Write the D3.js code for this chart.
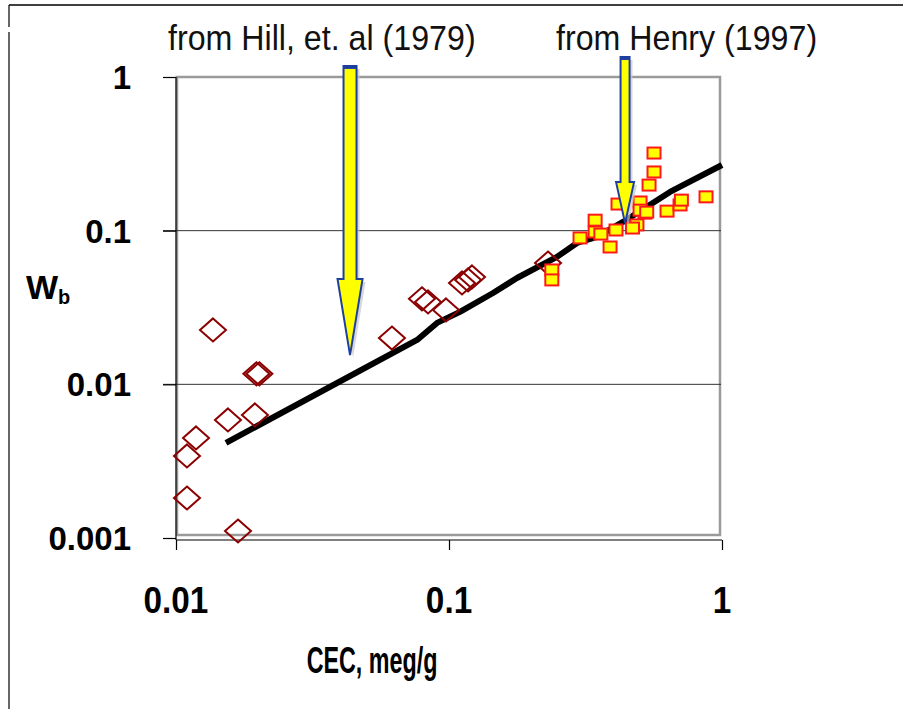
<!DOCTYPE html>
<html>
<head>
<meta charset="utf-8">
<script src="https://cdn.jsdelivr.net/npm/d3@7"></script>
<style>
  html, body { margin: 0; padding: 0; background: #fff; }
  svg { display: block; }
</style>
</head>
<body>
<svg id="chart" width="903" height="709"></svg>
<script>
// ---- data ----
const hillCEC = [0.01366, 0.01097, 0.01184, 0.01097, 0.0155, 0.01946, 0.01687, 0.0197, 0.0202,
                 0.0618, 0.0796, 0.0838, 0.0975, 0.1116, 0.1175, 0.1214, 0.2305];
const hillWb  = [0.0226, 0.00342, 0.00448, 0.00182, 0.00587, 0.00632, 0.00111, 0.0117, 0.0117,
                 0.0200, 0.0360, 0.0344, 0.0305, 0.0457, 0.0478, 0.0500, 0.0616];

const henryCEC = [0.5636, 0.5636, 0.5405, 0.501, 0.416, 0.522, 0.629, 0.702, 0.71, 0.874,
                  0.488, 0.47, 0.501, 0.53, 0.409, 0.343, 0.343, 0.302, 0.389, 0.238, 0.238, 0.36];
const henryWb  = [0.320, 0.241, 0.198, 0.1537, 0.149, 0.130, 0.134, 0.147, 0.158, 0.166,
                  0.109, 0.104, 0.136, 0.132, 0.101, 0.117, 0.098, 0.0897, 0.0783, 0.0555, 0.0478, 0.095];

const fitCEC = [0.01524, 0.0764, 0.0904, 0.1097, 0.145, 0.1774, 0.2486, 0.2943, 0.3484, 0.4337, 0.645, 1.0];
const fitWb  = [0.00416, 0.01945, 0.0251, 0.0296, 0.0393, 0.0492, 0.0675, 0.0832, 0.091, 0.114, 0.1786, 0.2676];

const xTicks = [0.01, 0.1, 1];
const yTicks = [0.001, 0.01, 0.1, 1];
const xTickLabels = ["0.01", "0.1", "1"];
const yTickLabels = ["0.001", "0.01", "0.1", "1"];

// annotation arrows: tip point and top of shaft (data units), and label
const arrowLabels = ["from Hill, et. al (1979)", "from Henry (1997)"];
const arrowTipCEC = [0.0434, 0.4415];
const arrowTipWb  = [0.0155, 0.112];
const arrowTopWb  = [1.18, 1.35];

// ---- chart ----
const svg = d3.select("#chart");
const x = d3.scaleLog().domain([0.01, 1]).range([176, 722]);
const y = d3.scaleLog().domain([0.001, 1]).range([538, 77]);
const FONT = "Liberation Sans, Arial, sans-serif";

// outer frame
svg.append("line").attr("x1", 9).attr("x2", 903).attr("y1", 5).attr("y2", 5)
   .attr("stroke", "#000").attr("stroke-width", 1.5);
svg.append("line").attr("x1", 9).attr("x2", 9).attr("y1", 5).attr("y2", 27)
   .attr("stroke", "#000").attr("stroke-width", 1.2);
svg.append("line").attr("x1", 9).attr("x2", 9).attr("y1", 32).attr("y2", 709)
   .attr("stroke", "#000").attr("stroke-width", 1.2);

// plot area gray frame
svg.append("rect").attr("x", 177).attr("y", 77).attr("width", 543).attr("height", 458)
   .attr("fill", "none").attr("stroke", "#9a9a9a").attr("stroke-width", 2.5);

// gridlines
svg.append("g").selectAll("line").data([0.01, 0.1]).join("line")
   .attr("x1", 163).attr("x2", 721)
   .attr("y1", d => y(d)).attr("y2", d => y(d))
   .attr("stroke", "#333").attr("stroke-width", 1);

// axes
const yAxis = d3.axisLeft(y).tickValues(yTicks).tickSize(13).tickFormat("");
const gy = svg.append("g").attr("transform", "translate(176,0)").call(yAxis);
const xAxis = d3.axisBottom(x).tickValues(xTicks).tickSize(10).tickFormat("");
const gx = svg.append("g").attr("transform", "translate(0,540)").call(xAxis);
[gx, gy].forEach(g => {
  g.select(".domain").attr("stroke", "#000").attr("stroke-width", 1.2);
  g.selectAll(".tick line").attr("stroke", "#000").attr("stroke-width", 1.2);
});
gy.select(".domain").attr("d", "M0,77V540");
gx.select(".domain").attr("d", "M176,0H722");

// tick labels
svg.append("g").selectAll("text").data(yTicks).join("text")
   .attr("x", 131).attr("y", d => y(d)).attr("dy", "0.36em")
   .attr("text-anchor", "end")
   .attr("font-family", FONT)
   .attr("font-weight", "bold").attr("font-size", 33)
   .text((d, i) => yTickLabels[i]);

svg.append("g").selectAll("text").data(xTicks).join("text")
   .attr("transform", d => `translate(${x(d)},613) scale(0.9,1)`)
   .attr("text-anchor", "middle")
   .attr("font-family", FONT)
   .attr("font-weight", "bold").attr("font-size", 37)
   .text((d, i) => xTickLabels[i]);

// axis titles
svg.append("text").attr("transform", "translate(372,673) scale(0.63,1)")
   .attr("text-anchor", "middle")
   .attr("font-family", FONT)
   .attr("font-weight", "bold").attr("font-size", 37)
   .text("CEC, meg/g");

const wt = svg.append("text").attr("x", 26).attr("y", 299)
   .attr("font-family", FONT)
   .attr("font-weight", "bold").attr("font-size", 34);
wt.append("tspan").text("W");
wt.append("tspan").attr("font-size", 20).attr("dy", 5).text("b");

// fit line
const line = d3.line().x(d => x(d[0])).y(d => y(d[1]));
svg.append("path").datum(fitCEC.map((c, i) => [c, fitWb[i]]))
   .attr("d", line).attr("fill", "none")
   .attr("stroke", "#000").attr("stroke-width", 6).attr("stroke-linejoin", "round");

// Hill diamonds
svg.append("g").selectAll("path").data(hillCEC.map((c, i) => [c, hillWb[i]])).join("path")
   .attr("transform", d => `translate(${x(d[0])},${y(d[1])})`)
   .attr("d", "M0,-11.5L13,0L0,11.5L-13,0Z")
   .attr("fill", "none").attr("stroke", "#8b0000").attr("stroke-width", 2);

// Henry squares
svg.append("g").selectAll("rect").data(henryCEC.map((c, i) => [c, henryWb[i]])).join("rect")
   .attr("x", d => x(d[0]) - 6.5).attr("y", d => y(d[1]) - 5.5)
   .attr("width", 13).attr("height", 11)
   .attr("fill", "#ffff00").attr("stroke", "#ff1a1a").attr("stroke-width", 2);

// arrows
const labelX = [168, 556];
arrowLabels.forEach((lab, i) => {
  const tx = x(arrowTipCEC[i]), ty = y(arrowTipWb[i]), top = y(arrowTopWb[i]);
  const sw = i === 0 ? 6.5 : 4.5;   // shaft half width
  const hw = i === 0 ? 12.5 : 9;    // head half width
  const hl = i === 0 ? 76 : 41;     // head length
  const p = `M${tx - sw},${top}H${tx + sw}V${ty - hl}H${tx + hw}L${tx},${ty}L${tx - hw},${ty - hl}H${tx - sw}Z`;
  svg.append("path").attr("d", p).attr("transform", "translate(3,3)")
     .attr("fill", "#c8c8c8").attr("opacity", 0.7);
  svg.append("path").attr("d", p).attr("fill", "#ffff00")
     .attr("stroke", "#1f3f9f").attr("stroke-width", 2).attr("stroke-linejoin", "miter");
  svg.append("rect").attr("x", tx - sw).attr("y", top).attr("width", 2 * sw).attr("height", 3)
     .attr("fill", "#1f3f9f");
  svg.append("text").attr("transform", `translate(${labelX[i]},50) scale(0.92,1)`)
     .attr("font-family", FONT)
     .attr("font-size", 35).attr("fill", "#111")
     .text(lab);
});
</script>
</body>
</html>
